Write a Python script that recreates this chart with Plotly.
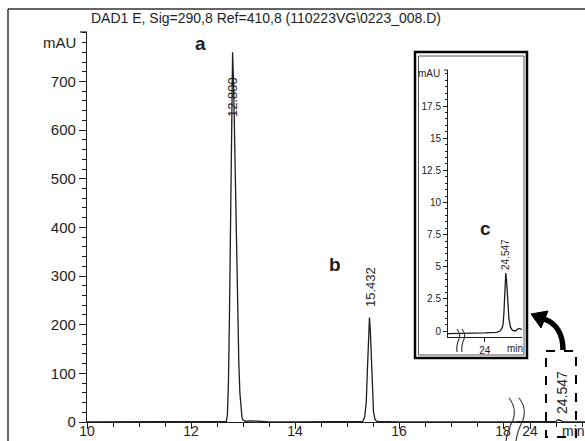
import plotly.graph_objects as go

W, H = 585, 441

# Chromatogram (DAD1 E, 290 nm): retention time in minutes vs absorbance in mAU
time_min = [10.0, 11.0, 11.7, 11.85, 12.0, 12.3, 12.6, 12.68, 12.70, 12.72,
            12.74, 12.76, 12.78, 12.80, 12.82, 12.84, 12.86, 12.88, 12.90, 12.92,
            12.94, 12.96, 12.98, 13.00, 13.05, 13.15, 13.25, 13.35, 13.5, 14.0,
            14.5, 15.0, 15.25, 15.30, 15.34, 15.37, 15.39, 15.41, 15.432, 15.45,
            15.47, 15.49, 15.51, 15.54, 15.58, 16.0, 17.0, 18.0, 18.5, 23.0,
            23.5, 24.0, 24.3, 24.40, 24.46, 24.48, 24.50, 24.52, 24.547, 24.57,
            24.60, 24.63, 24.67, 24.72, 24.80, 24.88, 25.0, 25.2]
absorb_mau = [0.0, 0.0, 0.3, 1.0, 0.6, 0.2, 0.3, 1.0, 15.0, 80.0,
              220.0, 430.0, 640.0, 760.0, 690.0, 560.0, 420.0, 300.0, 200.0, 120.0,
              60.0, 25.0, 10.0, 4.0, 1.5, 2.5, 2.0, 1.0, 0.3, 0.0,
              0.0, 0.2, 0.5, 1.0, 10.0, 40.0, 100.0, 170.0, 215.0, 185.0,
              120.0, 60.0, 20.0, 5.0, 1.0, 0.0, 0.0, 0.0, 0.0, -0.2,
              -0.2, -0.15, -0.1, 0.0, 0.3, 0.6, 1.5, 3.0, 4.5, 3.8,
              2.2, 0.9, 0.3, 0.05, 0.0, 0.2, 0.1, 0.1]

# Labelled peaks: letter and retention-time text
peak_letters = ["a", "b", "c"]
peak_times = ["12.800", "15.432", "24.547"]

main_yticks = [0, 100, 200, 300, 400, 500, 600, 700]
main_xticks_left = [10, 12, 14, 16, 18]
main_xticks_right = [24]
inset_yticks = [0, 2.5, 5, 7.5, 10, 12.5, 15, 17.5]
inset_xticks = [24]

title_text = "DAD1 E, Sig=290,8 Ref=410,8 (110223VG\\0223_008.D)"

FONT = "Liberation Sans, Arial, sans-serif"
INK = "#1e1e1e"


def fx(px):
    return px / W


def fy(py):
    return 1 - py / H


def path(points, cmd):
    # build an SVG path in paper units from pixel pairs
    out = []
    for c, pts in zip(cmd, points):
        out.append(c + " " + " ".join(f"{fx(x):.5f},{fy(y):.5f}" for x, y in pts))
    return " ".join(out)


fig = go.Figure()

line_style = dict(color=INK, width=1.3)
for xa, ya in (("x", "y"), ("x2", "y"), ("x3", "y3")):
    fig.add_trace(go.Scatter(x=time_min, y=absorb_mau, mode="lines", line=line_style,
                             xaxis=xa, yaxis=ya, hoverinfo="skip"))

px_per_min = 52.0
x_left0, x_break, x_right_24 = 87, 517, 530
axis_common = dict(showline=True, linecolor=INK, linewidth=1.3, ticks="outside",
                   tickcolor=INK, showgrid=False, zeroline=False, automargin=False)
inset_common = dict(showline=True, linecolor=INK, linewidth=1, ticks="outside",
                    tickcolor=INK, showgrid=False, zeroline=False, automargin=False,
                    tickfont=dict(family=FONT, size=10, color=INK))
xfont = dict(family=FONT, size=14, color=INK)
yfont = dict(family=FONT, size=15, color=INK)

fig.update_layout(
    width=W, height=H,
    margin=dict(l=0, r=0, t=0, b=0, autoexpand=False),
    paper_bgcolor="white", plot_bgcolor="rgba(0,0,0,0)",
    showlegend=False,
    xaxis=dict(domain=[fx(x_left0), fx(x_break)],
               range=[10, 10 + (x_break - x_left0) / px_per_min],
               tickvals=main_xticks_left, ticklen=6, tickwidth=1.2,
               ticklabelstandoff=-10, tickfont=xfont,
               minor=dict(dtick=0.5, tick0=10, ticks="outside", ticklen=4,
                          tickcolor=INK, tickwidth=1),
               anchor="y", **axis_common),
    xaxis2=dict(domain=[fx(x_break), 1],
                range=[24 - (x_right_24 - x_break) / px_per_min,
                       24 + (W - x_right_24) / px_per_min],
                tickvals=main_xticks_right, ticklen=6, tickwidth=1.2,
                ticklabelstandoff=-10, tickfont=xfont,
                minor=dict(dtick=0.5, tick0=24, ticks="outside", ticklen=4,
                           tickcolor=INK, tickwidth=1),
                anchor="y", **axis_common),
    yaxis=dict(domain=[fy(422), fy(32)], range=[0, (422 - 32) / 0.4864],
               tickvals=main_yticks, ticklen=7, tickwidth=1.2, tickfont=yfont,
               minor=dict(dtick=20, tick0=0, ticks="outside", ticklen=4,
                          tickcolor=INK, tickwidth=1),
               anchor="x", **axis_common),
    xaxis3=dict(domain=[fx(448), fx(522)], range=[23.04, 24.97],
                tickvals=inset_xticks, ticklen=4, tickwidth=1,
                anchor="y3", **inset_common),
    yaxis3=dict(domain=[fy(337), fy(70)], range=[-0.467, 20.3],
                tickvals=inset_yticks, ticklen=4, tickwidth=1,
                minor=dict(dtick=0.5, tick0=0, ticks="outside", ticklen=2,
                           tickcolor=INK, tickwidth=0.8),
                anchor="x3", **inset_common),
)


def note(text, x, y, size, angle=0, xanchor="center", bold=False):
    fig.add_annotation(text=f"<b>{text}</b>" if bold else text,
                       x=fx(x), y=fy(y), xref="paper", yref="paper",
                       showarrow=False, textangle=angle, xanchor=xanchor,
                       yanchor="middle",
                       font=dict(family=FONT, size=size, color=INK))


note(title_text, 266, 18, 14)
note("mAU", 78, 42, 15, xanchor="right")
note("min", 573, 431, 14)

# peak letters
note(peak_letters[0], 200, 44, 19, bold=True)
note(peak_letters[1], 335, 264, 19, bold=True)
note(peak_letters[2], 485, 228, 19, bold=True)

# retention-time labels
note(peak_times[0], 233, 97, 13, angle=-90)
note(peak_times[1], 370, 287, 13, angle=-90)
note(peak_times[2], 562, 393, 14, angle=-90)
note(peak_times[2], 505, 255, 10, angle=-90)

# inset labels
note("mAU", 442, 73, 10, xanchor="right")
note("min", 515, 348, 10)

shapes = []
frame = dict(color="#333333", width=1.5)
shapes.append(dict(type="line", xref="paper", yref="paper",
                   x0=fx(8), y0=fy(9), x1=1, y1=fy(9), line=frame))
shapes.append(dict(type="line", xref="paper", yref="paper",
                   x0=fx(8), y0=fy(9), x1=fx(8), y1=0, line=frame))

# inset frame (double outline)
shapes.append(dict(type="rect", xref="paper", yref="paper",
                   x0=fx(415), y0=fy(52), x1=fx(527), y1=fy(358),
                   line=dict(color="black", width=2.5)))
shapes.append(dict(type="rect", xref="paper", yref="paper",
                   x0=fx(418.5), y0=fy(56), x1=fx(524), y1=fy(355),
                   line=dict(color="#555555", width=1)))

# top brackets of the two y axes
shapes.append(dict(type="line", xref="paper", yref="paper",
                   x0=fx(80), y0=fy(32), x1=fx(87), y1=fy(32),
                   line=dict(color=INK, width=1.2)))
shapes.append(dict(type="line", xref="paper", yref="paper",
                   x0=fx(444), y0=fy(70), x1=fx(448), y1=fy(70),
                   line=dict(color=INK, width=1)))

# dashed box around the late peak
shapes.append(dict(type="rect", xref="paper", yref="paper",
                   x0=fx(546), y0=fy(351), x1=fx(576), y1=fy(437),
                   line=dict(color="black", width=2, dash="dash")))

# curved arrow pointing to the inset
shapes.append(dict(type="path", xref="paper", yref="paper",
                   path=path([[(563, 350)], [(563, 334), (556, 323), (544, 319)]],
                             ["M", "C"]),
                   line=dict(color="black", width=5.5)))
shapes.append(dict(type="path", xref="paper", yref="paper",
                   path=path([[(531, 314)], [(548, 311)], [(541, 328)]], ["M", "L", "L"]) + " Z",
                   fillcolor="black", line=dict(color="black", width=1)))

# axis-break squiggles
squig = dict(color="#333333", width=1.1)
for x0 in (511, 521):
    shapes.append(dict(type="path", xref="paper", yref="paper",
                       path=path([[(x0 - 2, 398)], [(x0 + 6, 408), (x0 + 2, 420)],
                                  [(x0 - 4, 432), (x0 - 5, 441)]], ["M", "Q", "Q"]),
                       line=squig))
for x0 in (458, 463):
    shapes.append(dict(type="path", xref="paper", yref="paper",
                       path=path([[(x0 - 1, 329)], [(x0 + 3, 334), (x0 + 1, 339)],
                                  [(x0 - 2, 346), (x0 - 1, 352)]], ["M", "Q", "Q"]),
                       line=squig))

fig.update_layout(shapes=shapes)

fig.write_html("out.html")
